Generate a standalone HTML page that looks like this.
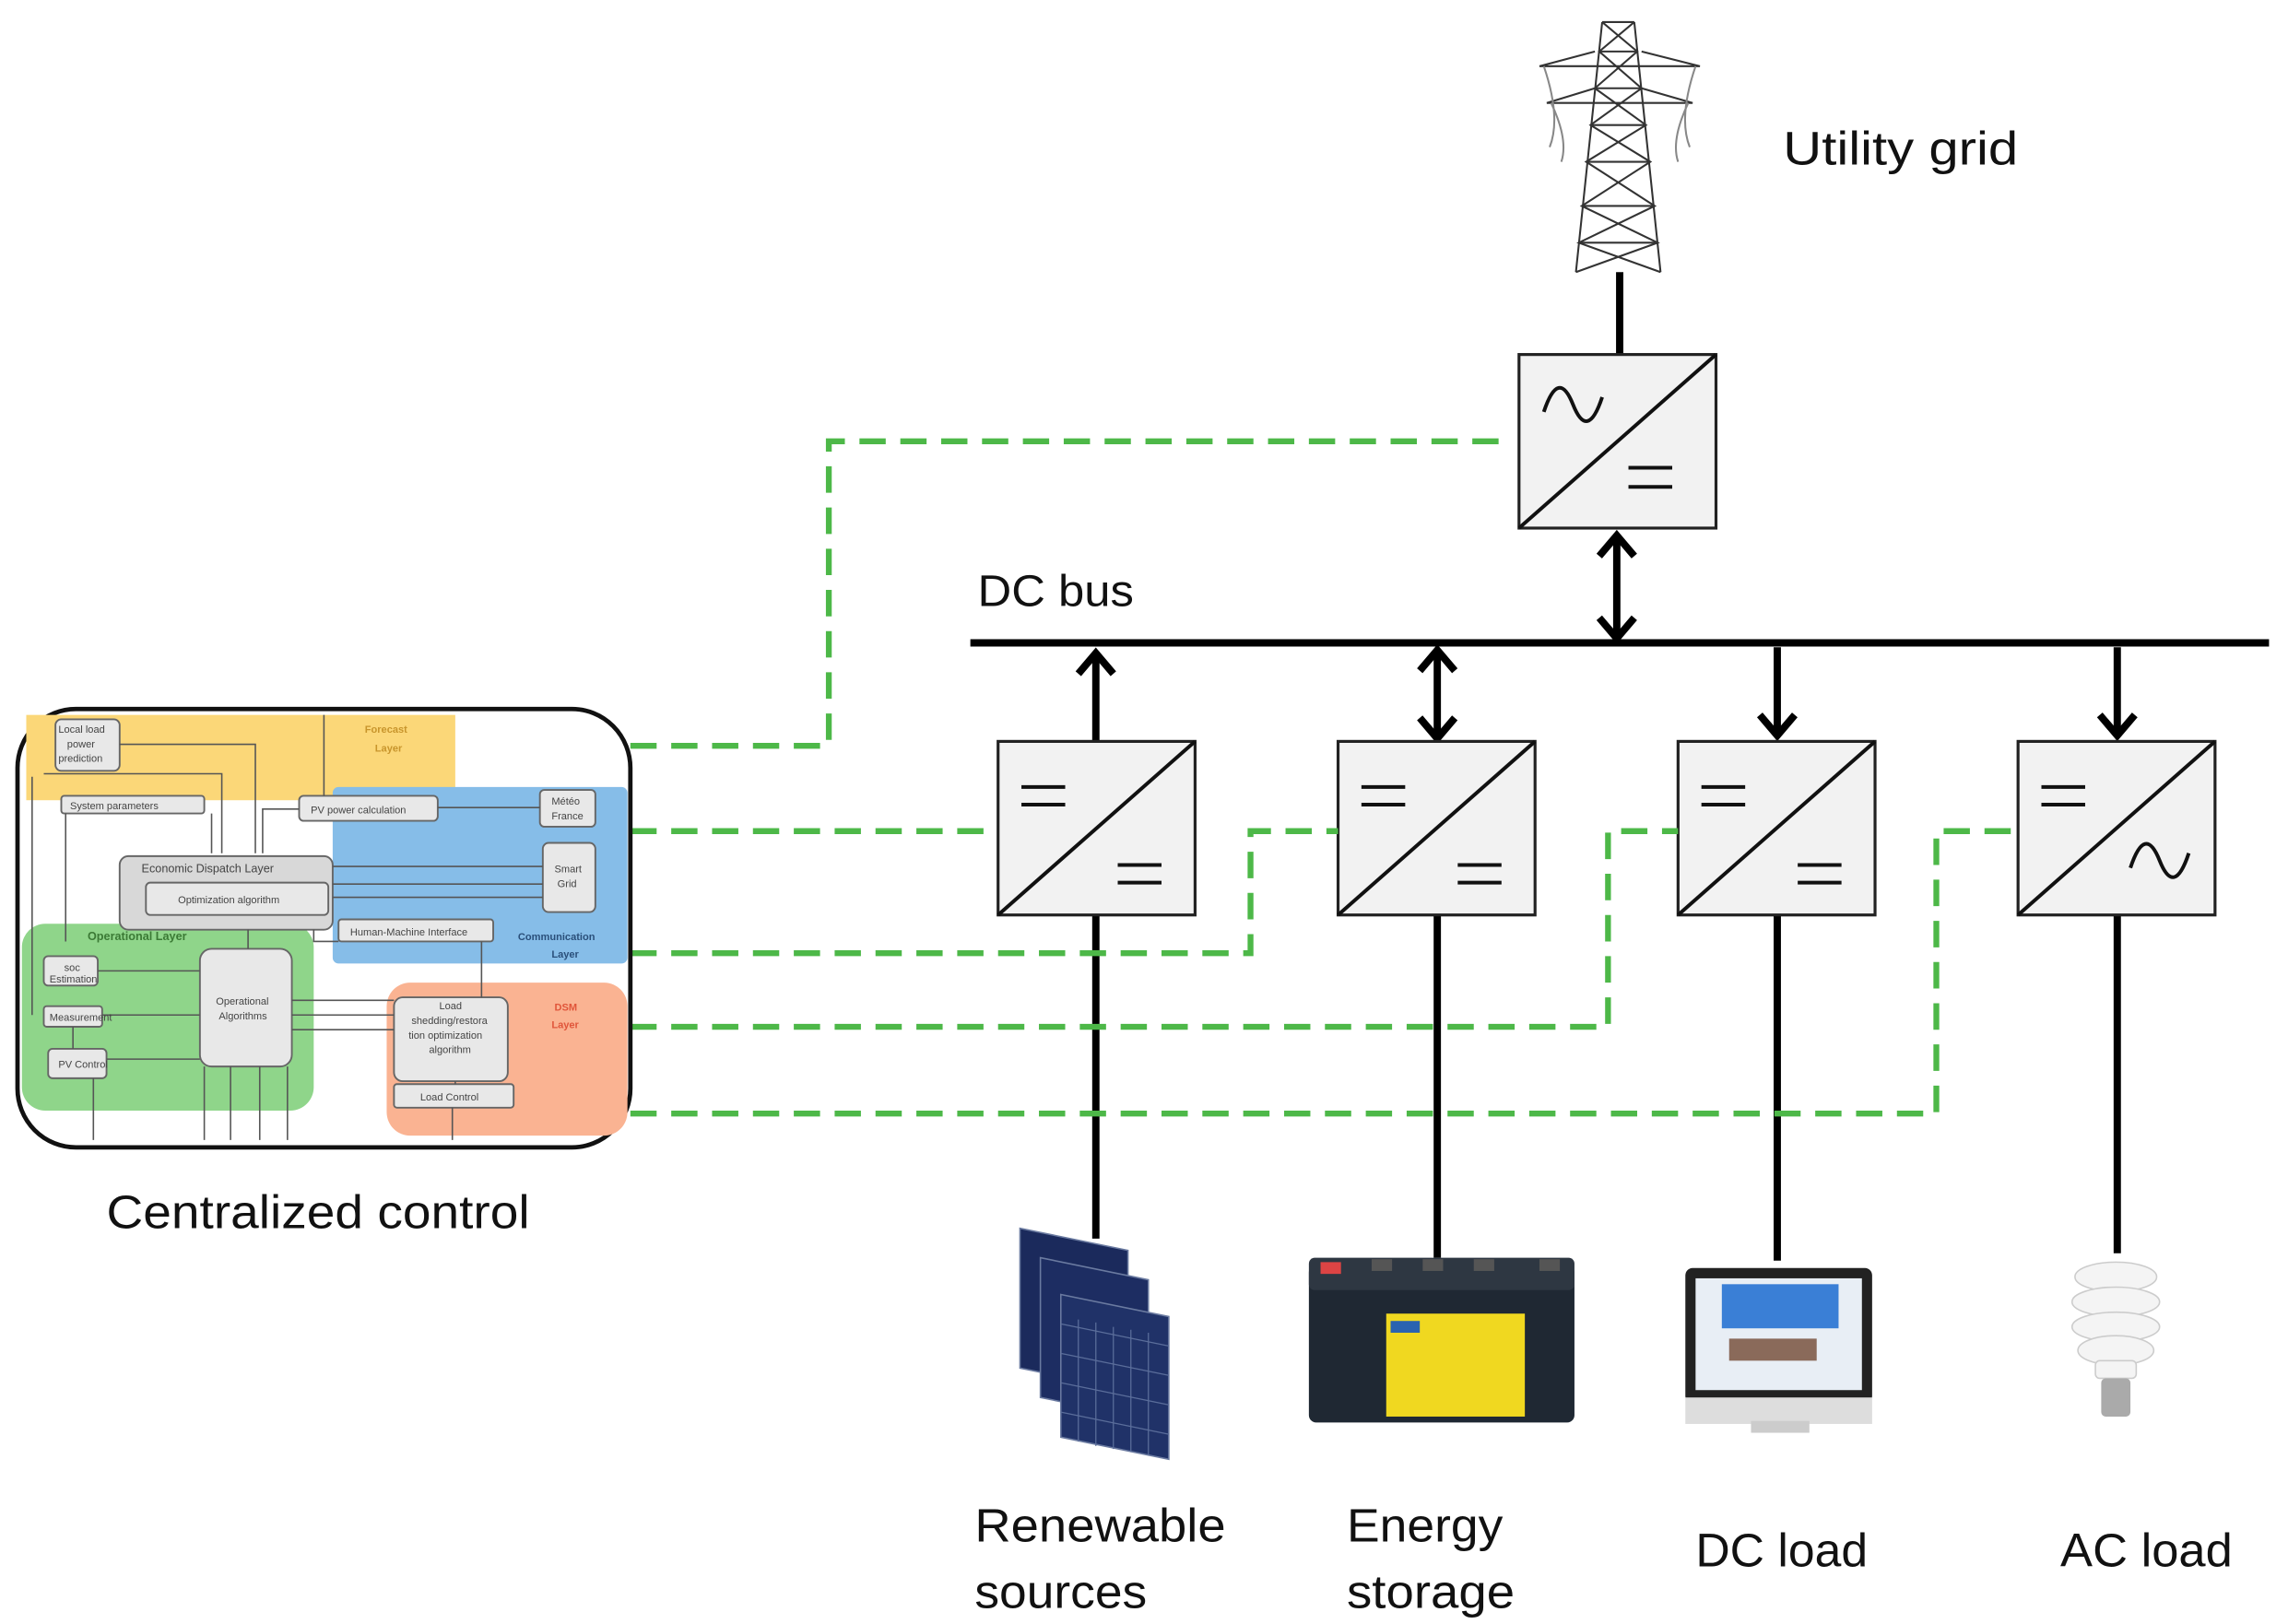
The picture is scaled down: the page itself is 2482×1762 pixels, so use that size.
<!DOCTYPE html>
<html><head><meta charset="utf-8"><style>
html,body{margin:0;padding:0;background:#fff;}
svg{display:block;}
text{font-family:"Liberation Sans",sans-serif;}
</style></head><body>
<svg width="2482" height="1762" viewBox="0 0 1568 1104" preserveAspectRatio="none" xmlns="http://www.w3.org/2000/svg">
<rect width="1568" height="1104" fill="#fff"/>

<!-- Tower -->
<g stroke="#333" stroke-width="1.3" fill="none">
<path d="M1098,15 L1080,185 M1120,15 L1138,185"/>
<path d="M1098,15 L1120,15 M1096,35 L1122,35 M1093,60 L1125,60 M1090,85 L1128,85 M1087,110 L1131,110 M1084,140 L1134,140 M1082,165 L1136,165"/>
<path d="M1098,15 L1122,35 L1093,60 L1128,85 L1087,110 L1134,140 L1082,165 L1138,185 M1120,15 L1096,35 L1125,60 L1090,85 L1131,110 L1084,140 L1136,165 L1080,185"/>
<path d="M1055,45 L1165,45 M1060,70 L1160,70 M1055,45 L1093,35 M1165,45 L1125,35 M1060,70 L1093,60 M1160,70 L1125,60"/>
<path d="M1058,45 Q1070,80 1062,100 M1162,45 Q1150,80 1158,100 M1063,70 Q1075,95 1070,110 M1157,70 Q1145,95 1150,110" stroke="#888"/>
</g>
<text x="1222" y="112" font-size="32" fill="#111" textLength="161" lengthAdjust="spacingAndGlyphs">Utility grid</text>
<line x1="1110" y1="185" x2="1110" y2="241" stroke="#000" stroke-width="5"/>

<!-- top converter -->
<rect x="1041" y="241" width="135" height="118" fill="#f2f2f2" stroke="#222" stroke-width="2"/>
<line x1="1041" y1="359" x2="1176" y2="241" stroke="#111" stroke-width="2.5"/>
<path d="M1058,280 Q1068,250 1078,275 Q1088,300 1098,270" fill="none" stroke="#111" stroke-width="2.5"/>
<line x1="1116" y1="318" x2="1146" y2="318" stroke="#111" stroke-width="2.5"/>
<line x1="1116" y1="331" x2="1146" y2="331" stroke="#111" stroke-width="2.5"/>

<!-- DC bus -->
<text x="670" y="412" font-size="30" fill="#111" textLength="107" lengthAdjust="spacingAndGlyphs">DC bus</text>
<line x1="665" y1="437" x2="1555" y2="437" stroke="#000" stroke-width="5"/>

<!-- arrows -->
<g stroke="#000" stroke-width="5" fill="none">
<line x1="1108" y1="366" x2="1108" y2="432"/>
<path d="M1096,378 L1108,364 L1120,378 M1096,420 L1108,434 L1120,420"/>
<line x1="751" y1="444" x2="751" y2="504"/>
<path d="M739,458 L751,444 L763,458"/>
<line x1="985" y1="444" x2="985" y2="500"/>
<path d="M973,456 L985,442 L997,456 M973,488 L985,502 L997,488"/>
<line x1="1218" y1="440" x2="1218" y2="500"/>
<path d="M1206,486 L1218,500 L1230,486"/>
<line x1="1451" y1="440" x2="1451" y2="500"/>
<path d="M1439,486 L1451,500 L1463,486"/>
<line x1="751" y1="622" x2="751" y2="842"/>
<line x1="985" y1="622" x2="985" y2="855"/>
<line x1="1218" y1="622" x2="1218" y2="857"/>
<line x1="1451" y1="622" x2="1451" y2="852"/>
</g>

<!-- bottom converters -->
<g stroke="#222" stroke-width="2" fill="#f2f2f2">
<rect x="684" y="504" width="135" height="118"/>
<rect x="917" y="504" width="135" height="118"/>
<rect x="1150" y="504" width="135" height="118"/>
<rect x="1383" y="504" width="135" height="118"/>
</g>
<g stroke="#111" stroke-width="2.5" fill="none">
<line x1="684" y1="622" x2="819" y2="504"/><line x1="917" y1="622" x2="1052" y2="504"/>
<line x1="1150" y1="622" x2="1285" y2="504"/><line x1="1383" y1="622" x2="1518" y2="504"/>
<path d="M700,535 H730 M700,547 H730 M766,588 H796 M766,600 H796"/>
<path d="M933,535 H963 M933,547 H963 M999,588 H1029 M999,600 H1029"/>
<path d="M1166,535 H1196 M1166,547 H1196 M1232,588 H1262 M1232,600 H1262"/>
<path d="M1399,535 H1429 M1399,547 H1429 M1460,590 Q1470,560 1480,585 Q1490,610 1500,580"/>
</g>

<!-- dashed green -->
<g stroke="#4db848" stroke-width="4" fill="none" stroke-dasharray="18,10">
<path d="M432,507 H568 V300 H1030"/>
<path d="M432,565 H684"/>
<path d="M432,648 H857 V565 H917"/>
<path d="M432,698 H1102 V565 H1150"/>
<path d="M432,757 H1327 V565 H1383"/>
</g>

<!-- Control box -->
<rect x="12" y="482" width="420" height="298" rx="40" fill="#fff" stroke="#111" stroke-width="3"/>
<rect x="18" y="486" width="294" height="58" fill="#fbd778"/>
<rect x="228" y="535" width="202" height="120" rx="4" fill="#86bde8"/>
<rect x="15" y="628" width="200" height="127" rx="16" fill="#8fd58a"/>
<rect x="265" y="668" width="165" height="104" rx="16" fill="#fab392"/>
<g fill="#e8e8e8" stroke="#666" stroke-width="1.2">
<rect x="38" y="489" width="44" height="35" rx="4"/>
<rect x="42" y="541" width="98" height="12" rx="2"/>
<rect x="205" y="541" width="95" height="17" rx="3"/>
<rect x="370" y="537" width="38" height="25" rx="3"/>
<rect x="372" y="573" width="36" height="47" rx="4"/>
<rect x="82" y="582" width="146" height="50" rx="6" fill="#d8d8d8"/>
<rect x="100" y="600" width="125" height="22" rx="3"/>
<rect x="232" y="625" width="106" height="15" rx="2"/>
<rect x="137" y="645" width="63" height="80" rx="8"/>
<rect x="30" y="650" width="37" height="20" rx="3"/>
<rect x="30" y="684" width="40" height="14" rx="2"/>
<rect x="33" y="713" width="40" height="20" rx="3"/>
<rect x="270" y="678" width="78" height="57" rx="6"/>
<rect x="270" y="737" width="82" height="16" rx="2"/>
</g>
<g stroke="#555" stroke-width="1" fill="none">
<path d="M82,506 H175 V580 M30,526 H152 V580 M145,553 V580 M205,550 H180 V580 M222,486 V541 M370,549 H300 M228,589 H372 M228,601 H372 M228,610 H372 M170,632 V645 M215,632 V640 H232 M330,640 V678 M200,680 H270 M200,690 H270 M200,700 H270 M67,660 H137 M70,690 H137 M73,720 H137 M50,698 V713 M64,733 V775 M140,725 V775 M158,725 V775 M178,725 V775 M197,725 V775 M310,753 V775 M45,553 V640 M22,528 V690 M312,735 V737"/>
</g>
<g font-family="Liberation Serif,serif" fill="#444" font-size="7">
<text x="40" y="498">Local load</text><text x="46" y="508">power</text><text x="40" y="518">prediction</text>
<text x="48" y="550">System parameters</text>
<text x="213" y="553">PV power calculation</text>
<text x="378" y="547">Météo</text><text x="378" y="557">France</text>
<text x="380" y="593">Smart</text><text x="382" y="603">Grid</text>
<text x="97" y="593" font-size="8">Economic Dispatch Layer</text>
<text x="122" y="614">Optimization algorithm</text>
<text x="240" y="636">Human-Machine Interface</text>
<text x="148" y="683">Operational</text><text x="150" y="693">Algorithms</text>
<text x="44" y="660">soc</text><text x="34" y="668">Estimation</text>
<text x="34" y="694">Measurement</text>
<text x="40" y="726">PV Control</text>
<text x="301" y="686">Load</text><text x="282" y="696">shedding/restora</text><text x="280" y="706">tion optimization</text><text x="294" y="716">algorithm</text>
<text x="288" y="748">Load Control</text>
<text x="250" y="498" fill="#c8952c" font-weight="bold">Forecast</text><text x="257" y="511" fill="#c8952c" font-weight="bold">Layer</text>
<text x="60" y="639" fill="#3b7a35" font-weight="bold" font-size="8">Operational Layer</text>
<text x="355" y="639" fill="#2a4f7a" font-weight="bold">Communication</text><text x="378" y="651" fill="#2a4f7a" font-weight="bold">Layer</text>
<text x="380" y="687" fill="#e0553a" font-weight="bold">DSM</text><text x="378" y="699" fill="#e0553a" font-weight="bold">Layer</text>
</g>
<text x="73" y="835" font-size="32" fill="#111" textLength="290" lengthAdjust="spacingAndGlyphs">Centralized control</text>

<!-- Solar panels -->
<g stroke="#6a7aa0" stroke-width="1">
<polygon points="699,835 773,850 773,945 699,930" fill="#1b2a5c"/>
<polygon points="713,855 787,870 787,965 713,950" fill="#1d2d62"/>
<polygon points="727,880 801,895 801,992 727,977" fill="#203268"/>
</g>
<g stroke="#5a6d9a" stroke-width="0.8">
<path d="M739,897 L739,980 M751,899 L751,983 M763,902 L763,985 M775,904 L775,987 M787,906 L787,989 M727,900 L801,915 M727,920 L801,935 M727,940 L801,955 M727,960 L801,975"/>
</g>

<!-- Battery -->
<rect x="897" y="860" width="182" height="107" rx="5" fill="#1f2833"/>
<rect x="897" y="855" width="182" height="22" rx="4" fill="#2e3742"/>
<g fill="#d44"><rect x="905" y="858" width="14" height="8"/></g>
<g fill="#555"><rect x="940" y="856" width="14" height="8"/><rect x="975" y="856" width="14" height="8"/><rect x="1010" y="856" width="14" height="8"/><rect x="1055" y="856" width="14" height="8"/></g>
<rect x="950" y="893" width="95" height="70" fill="#f0d820"/>
<rect x="953" y="898" width="20" height="8" fill="#2a63b0"/>

<!-- Monitor -->
<rect x="1155" y="862" width="128" height="92" rx="5" fill="#222"/>
<rect x="1162" y="869" width="114" height="76" fill="#e8eef5"/>
<rect x="1180" y="873" width="80" height="30" fill="#3a7fd6"/>
<rect x="1185" y="910" width="60" height="15" fill="#8a6a5a"/>
<rect x="1155" y="950" width="128" height="18" fill="#ddd"/>
<rect x="1200" y="966" width="40" height="8" fill="#ccc"/>

<!-- Bulb -->
<g fill="#f4f4f4" stroke="#ccc" stroke-width="1">
<ellipse cx="1450" cy="868" rx="28" ry="10"/>
<ellipse cx="1450" cy="885" rx="30" ry="10"/>
<ellipse cx="1450" cy="902" rx="30" ry="10"/>
<ellipse cx="1450" cy="918" rx="26" ry="10"/>
<rect x="1436" y="925" width="28" height="12" rx="3"/>
</g>
<rect x="1440" y="937" width="20" height="26" rx="3" fill="#aaa"/>

<!-- labels -->
<g font-size="32" fill="#111">
<text x="668" y="1048" textLength="172" lengthAdjust="spacingAndGlyphs">Renewable</text><text x="668" y="1093" textLength="118" lengthAdjust="spacingAndGlyphs">sources</text>
<text x="923" y="1048" textLength="107" lengthAdjust="spacingAndGlyphs">Energy</text><text x="923" y="1093" textLength="115" lengthAdjust="spacingAndGlyphs">storage</text>
<text x="1162" y="1065" textLength="118" lengthAdjust="spacingAndGlyphs">DC load</text>
<text x="1412" y="1065" textLength="118" lengthAdjust="spacingAndGlyphs">AC load</text>
</g>
</svg>
</body></html>
